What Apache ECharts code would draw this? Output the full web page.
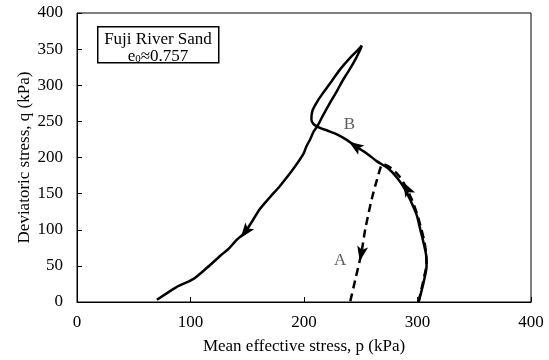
<!DOCTYPE html>
<html>
<head>
<meta charset="utf-8">
<script src="https://cdn.jsdelivr.net/npm/echarts@6/dist/echarts.min.js"></script>
<style>
  html, body { margin: 0; padding: 0; background: #fff; }
  #chart { width: 549px; height: 360px; }
</style>
</head>
<body>
<div id="chart"></div>
<script>
// Stress path B (solid): p and q in kPa
const pathB_p = [300.8, 303, 305.5, 308, 307.5, 305.2, 302.5, 299.4, 294, 289, 282, 274, 264, 255, 245, 238, 229, 221, 214, 208.5, 206.5, 207.5, 212.7, 217.1, 224.5, 231.8, 240.6, 249.4, 250.9, 249.5, 246, 241, 235, 229, 223, 217, 212, 208.5, 205.4, 202, 199.5, 190, 179, 170, 161.3, 148.2, 140, 133.5, 126.3, 115, 102.7, 87, 70.4];
const pathB_q = [0, 12, 28, 50, 66, 83, 100, 120, 140, 156, 172, 185, 195, 206, 216, 224, 232, 237, 241, 246, 252.5, 265, 280, 290, 306, 322, 338, 352, 355, 349, 338, 324, 309, 292, 276, 259, 244, 236, 225, 215, 205, 183, 161, 145, 129, 97, 85, 73.5, 64, 48, 32, 20, 3];

// Stress path A (dashed)
const pathA_p = [301, 303.5, 306, 308, 307.5, 306, 303.5, 300, 295.5, 290.5, 284, 277, 269.5, 264.5, 259.7, 254, 250.4, 245.5, 240.6];
const pathA_q = [0, 18, 36, 52, 68, 84, 100, 120, 140, 157, 174, 185, 191, 170, 142.5, 101, 66.6, 33, 0];

// Direction arrows: point index along each path
const arrowsB = [14, 45];
const arrowsA = [9, 16];

// Path labels
const labelNames = ['A', 'B'];
const labelP = [231.8, 240];
const labelQ = [57, 246];

const xTicks = [0, 100, 200, 300, 400];
const yTicks = [0, 50, 100, 150, 200, 250, 300, 350, 400];

const FONT = '"Liberation Serif", "Times New Roman", serif';
const FS = 17;
const zip = (a, b) => a.map((v, i) => [v, b[i]]);

const chart = echarts.init(document.getElementById('chart'), null, { renderer: 'canvas' });

const axisCommon = {
  type: 'value',
  axisLine: { show: true, lineStyle: { color: '#000', width: 1 } },
  axisTick: { show: true, inside: true, length: 5, lineStyle: { color: '#000', width: 1 } },
  splitLine: { show: false },
  axisLabel: { color: '#000', fontFamily: FONT, fontSize: FS },
  nameTextStyle: { color: '#000', fontFamily: FONT, fontSize: FS },
  nameLocation: 'middle',
  nameMoveOverlap: false
};

const option = {
  animation: false,
  backgroundColor: '#fff',
  grid: {
    left: 77, right: 18, top: 13, bottom: 57,
    show: true, borderColor: '#000', borderWidth: 1, backgroundColor: 'transparent'
  },
  xAxis: Object.assign({}, axisCommon, {
    min: xTicks[0], max: xTicks[xTicks.length - 1], interval: xTicks[1] - xTicks[0],
    name: 'Mean effective stress, p (kPa)', nameGap: 36,
    axisLabel: Object.assign({}, axisCommon.axisLabel, { margin: 12 })
  }),
  yAxis: Object.assign({}, axisCommon, {
    min: yTicks[0], max: yTicks[yTicks.length - 1], interval: yTicks[1] - yTicks[0],
    name: 'Deviatoric stress, q (kPa)', nameGap: 44,
    axisLabel: Object.assign({}, axisCommon.axisLabel, { margin: 14 })
  }),
  series: [
    {
      name: 'B', type: 'line', data: zip(pathB_p, pathB_q), smooth: 0.25,
      showSymbol: false, lineStyle: { color: '#000', width: 2.5 }, z: 3
    },
    {
      name: 'A', type: 'line', data: zip(pathA_p, pathA_q), smooth: 0.25,
      showSymbol: false, lineStyle: { color: '#000', width: 2.5, type: [8, 5] }, z: 2
    },
    {
      name: 'labels', type: 'scatter', symbolSize: 0,
      data: labelNames.map((n, i) => ({ name: n, value: [labelP[i], labelQ[i]] })),
      label: {
        show: true, position: 'inside', formatter: '{b}',
        color: '#333', fontFamily: FONT, fontSize: FS
      },
      silent: true
    }
  ],
  graphic: [
    {
      type: 'rect', left: 97, top: 26, z: 10,
      shape: { width: 121, height: 36 },
      style: { fill: '#fff', stroke: '#000', lineWidth: 1.5 }
    },
    {
      type: 'text', x: 158, y: 31, z: 11,
      style: {
        text: 'Fuji River Sand', fill: '#000', font: FS + 'px ' + FONT, align: 'center'
      }
    },
    {
      type: 'text', x: 158, y: 48, z: 11,
      style: {
        text: '{n|e}{s|0}{n|≈0.757}', align: 'center',
        rich: {
          n: { fontFamily: FONT, fontSize: FS, fill: '#000', lineHeight: 17, verticalAlign: 'bottom' },
          s: { fontFamily: FONT, fontSize: 11, fill: '#000', lineHeight: 13, verticalAlign: 'bottom' }
        }
      }
    }
  ]
};

chart.setOption(option);

// Arrowheads oriented along the local direction of each path
function arrowData(ps, qs, idxs) {
  return idxs.map(i => {
    const a = chart.convertToPixel({ gridIndex: 0 }, [ps[i - 1], qs[i - 1]]);
    const b = chart.convertToPixel({ gridIndex: 0 }, [ps[i + 1], qs[i + 1]]);
    const ang = Math.atan2(-(b[1] - a[1]), b[0] - a[0]) * 180 / Math.PI;
    return { value: [ps[i], qs[i]], symbolRotate: ang - 90 };
  });
}

chart.setOption({
  series: [
    {}, {}, {},
    {
      name: 'arrows', type: 'scatter',
      symbol: 'path://M0,0 L5,14 L0,11 L-5,14 Z', symbolSize: [11, 15],
      itemStyle: { color: '#000', opacity: 1 }, z: 5, silent: true,
      data: arrowData(pathB_p, pathB_q, arrowsB).concat(arrowData(pathA_p, pathA_q, arrowsA))
    }
  ]
});
</script>
</body>
</html>
